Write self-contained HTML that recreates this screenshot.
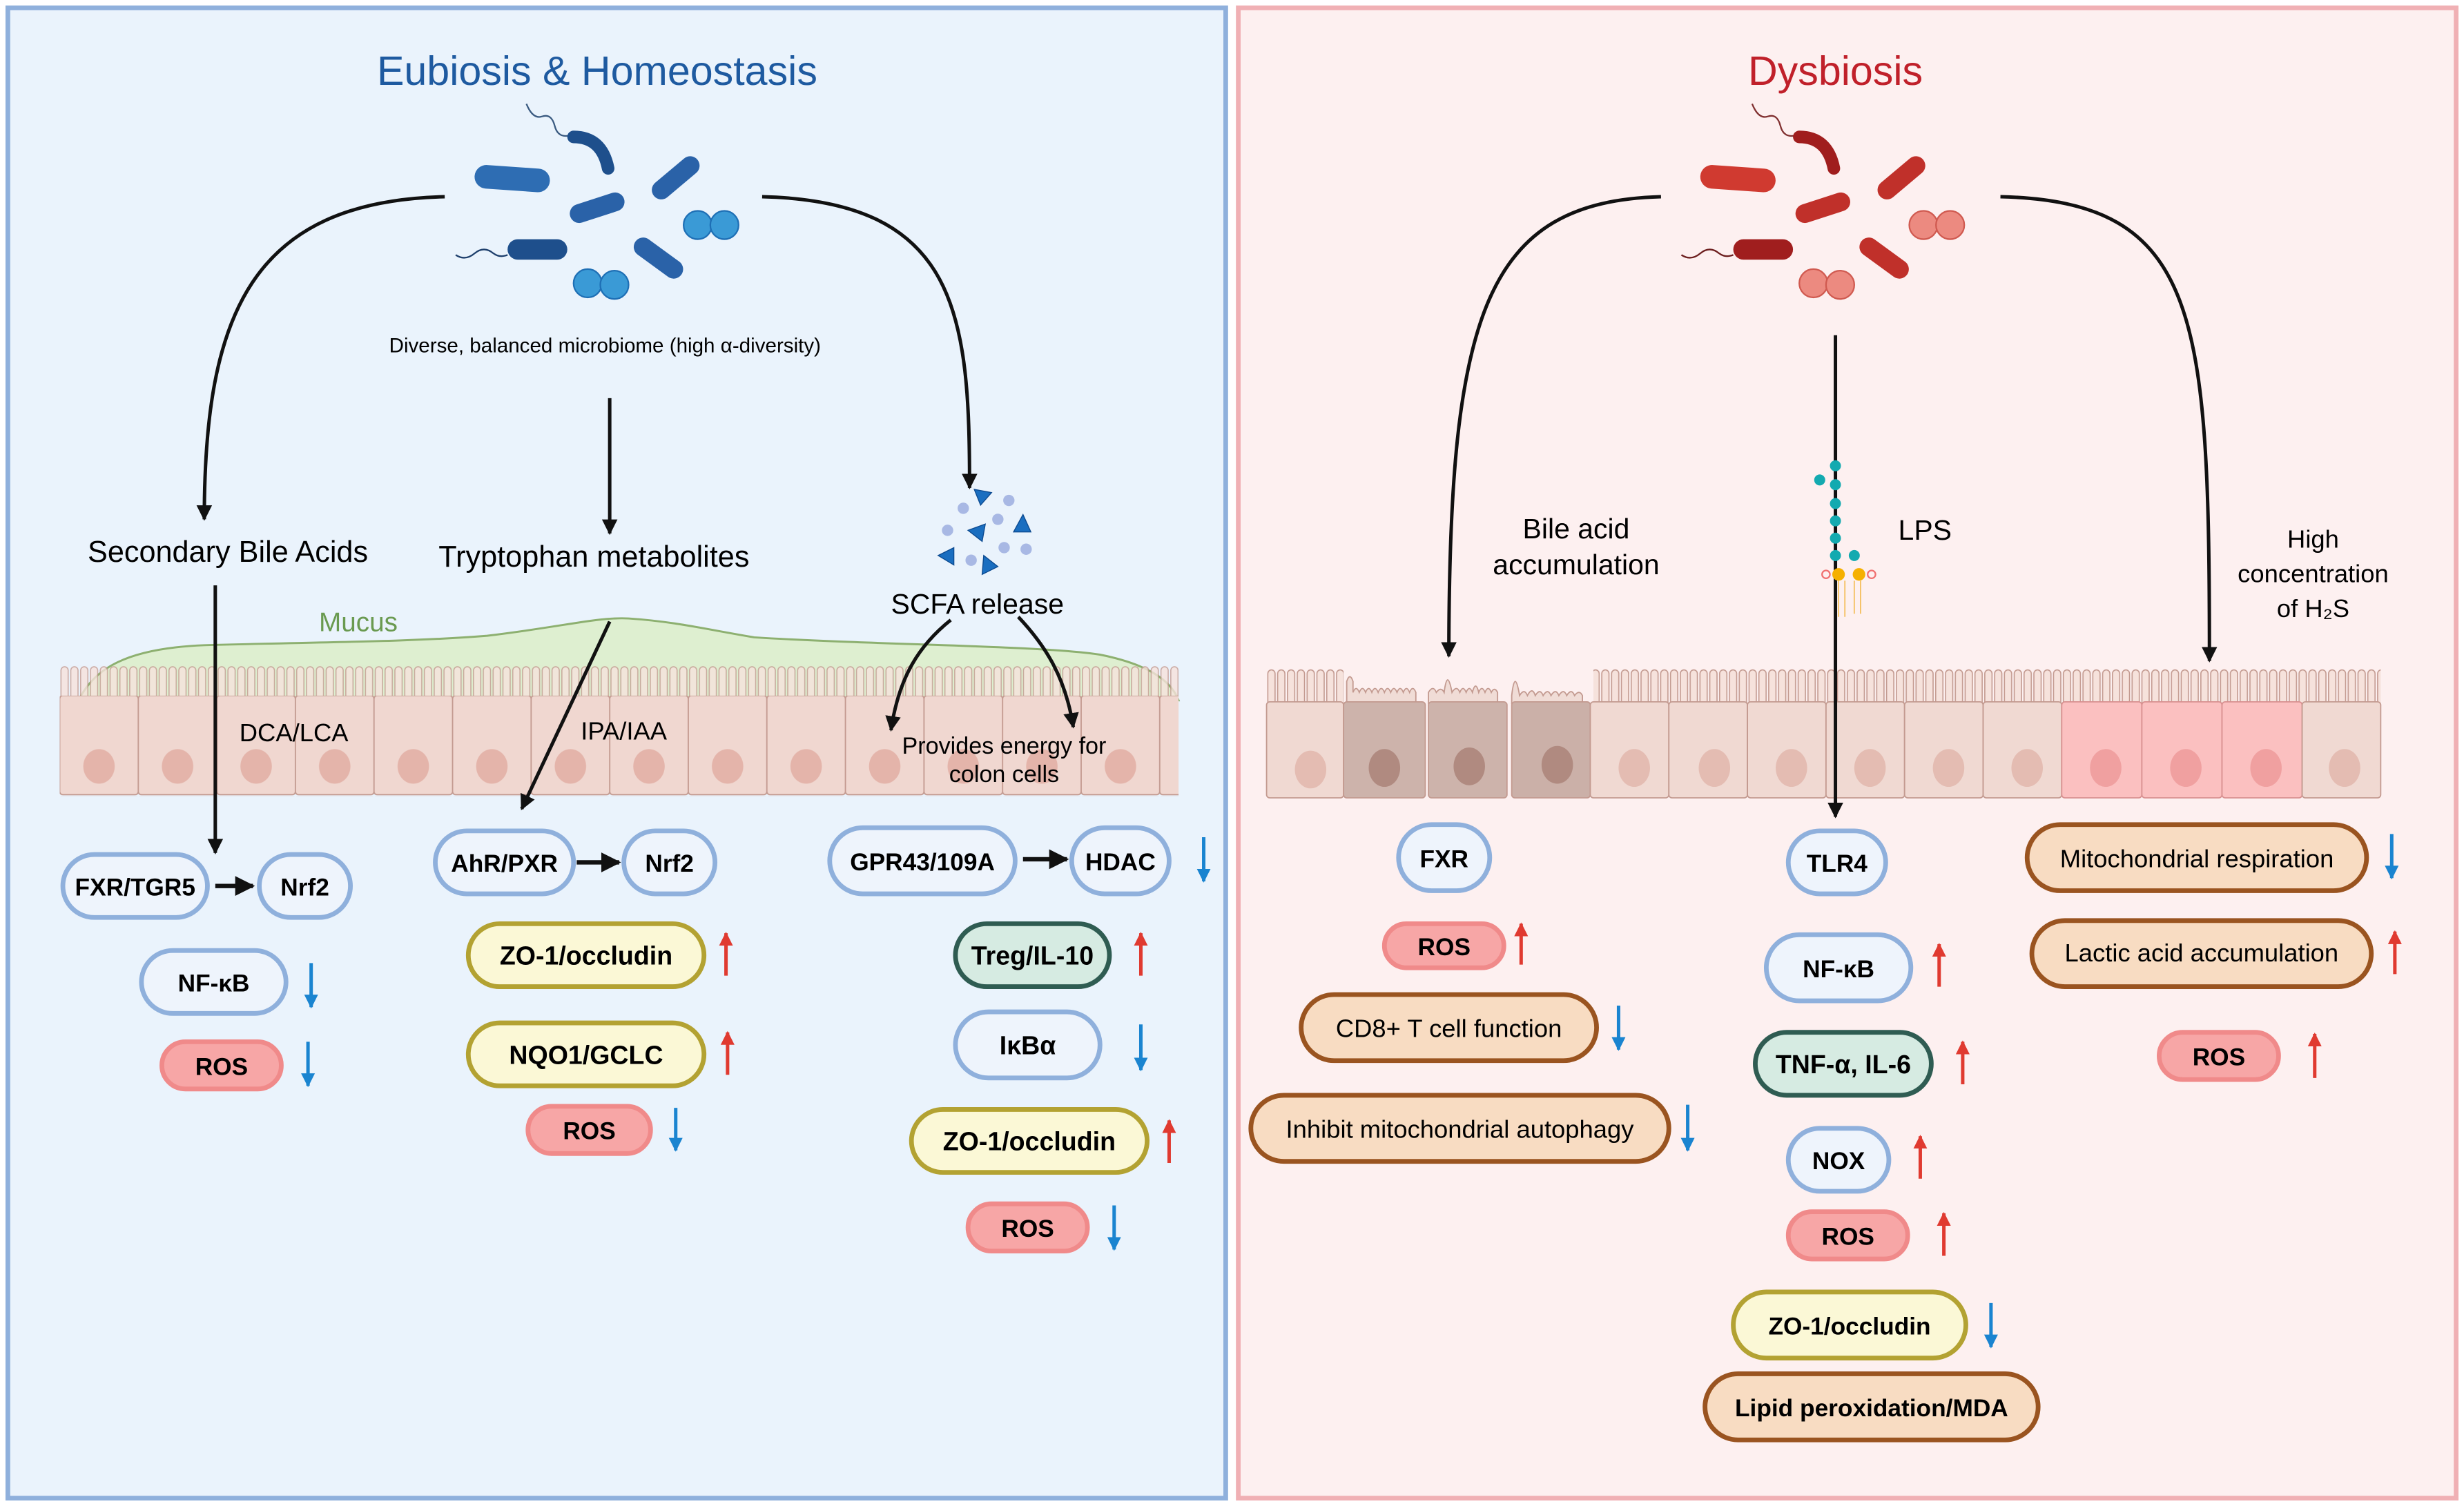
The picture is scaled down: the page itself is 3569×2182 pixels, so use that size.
<!DOCTYPE html>
<html><head><meta charset="utf-8"><style>
html,body{margin:0;padding:0;background:#fff}
svg{display:block}
text{font-family:"Liberation Sans",sans-serif}
.pb{font-weight:bold;font-size:15.5px}
.pn{font-size:16px}
</style></head><body>
<svg width="3569" height="2182" viewBox="0 0 1568 957" preserveAspectRatio="none" xmlns="http://www.w3.org/2000/svg">
<defs>
<marker id="ah" viewBox="0 0 10 10" refX="9" refY="5" markerWidth="4.5" markerHeight="8" orient="auto" markerUnits="strokeWidth"><path d="M0,0 L10,5 L0,10 Z" fill="#111"/></marker>
<marker id="ab" viewBox="0 0 10 10" refX="9" refY="5" markerWidth="4" markerHeight="4.5" orient="auto" markerUnits="strokeWidth"><path d="M0,0 L10,5 L0,10 Z" fill="#1a84d0"/></marker>
<marker id="ar" viewBox="0 0 10 10" refX="9" refY="5" markerWidth="4" markerHeight="4.5" orient="auto" markerUnits="strokeWidth"><path d="M0,0 L10,5 L0,10 Z" fill="#e03a30"/></marker>
<pattern id="vil" x="38" y="423" width="6.25" height="22" patternUnits="userSpaceOnUse">
<path d="M0.8,22 V3 a2.3,2.3 0 0 1 4.6,0 V22" fill="#f6e2dc" stroke="#c39a90" stroke-width="0.7"/></pattern>
<pattern id="vilR" x="806" y="425" width="6.25" height="22" patternUnits="userSpaceOnUse">
<path d="M0.8,22 V3 a2.3,2.3 0 0 1 4.6,0 V22" fill="#f6e2dc" stroke="#c39a90" stroke-width="0.7"/></pattern>
<pattern id="cellL" x="38" y="442" width="50" height="64" patternUnits="userSpaceOnUse">
<rect x="0" y="0" width="50" height="63" rx="2" fill="#f0d7d0" stroke="#c39a90" stroke-width="0.8"/>
<ellipse cx="25" cy="45" rx="10" ry="11" fill="#e4b4aa"/></pattern>
</defs>

<rect x="5" y="5" width="775" height="947" fill="#eaf3fc" stroke="#8fb0dc" stroke-width="3"/>
<rect x="788" y="5" width="775" height="947" fill="#fdf0f0" stroke="#f0b0b4" stroke-width="3"/>

<text x="380" y="54" text-anchor="middle" font-size="26" fill="#1e5aa0">Eubiosis &amp; Homeostasis</text>
<text x="1168" y="54" text-anchor="middle" font-size="26" fill="#c0202a">Dysbiosis</text>

<g fill="#2a62a8">
<path d="M335,66 q4,10 10,8 q6,-2 8,6 q2,8 10,6" fill="none" stroke="#3a5a80" stroke-width="1"/>
<path d="M365,87 q18,0 22,20" fill="none" stroke="#1e4f8c" stroke-width="8" stroke-linecap="round"/>
<rect x="302" y="106" width="48" height="15" rx="7.5" transform="rotate(4 326 113)" fill="#2e6db3"/>
<rect x="362" y="126" width="36" height="12" rx="6" transform="rotate(-18 380 132)"/>
<rect x="412" y="107" width="36" height="12" rx="6" transform="rotate(-40 430 113)"/>
<rect x="401" y="158" width="36" height="12" rx="6" transform="rotate(36 419 164)"/>
<path d="M290,162 q6,4 12,-1 q6,-5 12,0 q4,3 9,1" fill="none" stroke="#1e3f6c" stroke-width="1"/>
<rect x="323" y="152" width="38" height="13" rx="6.5" fill="#1e4f8c"/>
<circle cx="444" cy="143" r="9" fill="#3a9ad6" stroke="#1e6fb5"/><circle cx="461" cy="143" r="9" fill="#3a9ad6" stroke="#1e6fb5"/>
<circle cx="374" cy="180" r="9" fill="#3a9ad6" stroke="#1e6fb5"/><circle cx="391" cy="181" r="9" fill="#3a9ad6" stroke="#1e6fb5"/>
</g>
<g fill="#c0302a" transform="translate(780,0)">
<path d="M335,66 q4,10 10,8 q6,-2 8,6 q2,8 10,6" fill="none" stroke="#803030" stroke-width="1"/>
<path d="M365,87 q18,0 22,20" fill="none" stroke="#a01e1e" stroke-width="8" stroke-linecap="round"/>
<rect x="302" y="106" width="48" height="15" rx="7.5" transform="rotate(4 326 113)" fill="#d03a30"/>
<rect x="362" y="126" width="36" height="12" rx="6" transform="rotate(-18 380 132)"/>
<rect x="412" y="107" width="36" height="12" rx="6" transform="rotate(-40 430 113)"/>
<rect x="401" y="158" width="36" height="12" rx="6" transform="rotate(36 419 164)"/>
<path d="M290,162 q6,4 12,-1 q6,-5 12,0 q4,3 9,1" fill="none" stroke="#6c1e1e" stroke-width="1"/>
<rect x="323" y="152" width="38" height="13" rx="6.5" fill="#a01e1e"/>
<circle cx="444" cy="143" r="9" fill="#ec8a80" stroke="#d05a50"/><circle cx="461" cy="143" r="9" fill="#ec8a80" stroke="#d05a50"/>
<circle cx="374" cy="180" r="9" fill="#ec8a80" stroke="#d05a50"/><circle cx="391" cy="181" r="9" fill="#ec8a80" stroke="#d05a50"/>
</g>

<text x="385" y="224" text-anchor="middle" font-size="13">Diverse, balanced microbiome (high α-diversity)</text>

<g fill="none" stroke="#111" stroke-width="2.2">
<path d="M283,125 C160,128 130,200 130,330" marker-end="url(#ah)"/>
<path d="M485,125 C610,128 617,200 617,310" marker-end="url(#ah)"/>
<path d="M388,253 V339" marker-end="url(#ah)"/>
</g>

<g fill="#1a6ec0" stroke="#0c4a90" stroke-width="0.6">
<path d="M620,311 l11,2 l-7,8 z"/><path d="M651,327 l5,11 h-11 z"/><path d="M627,333 l-11,4 l9,7 z"/>
<path d="M607,348 l-10,5 l10,6 z"/><path d="M626,353 l-1,12 l10,-5 z"/>
</g>
<g fill="#a8b8e4"><circle cx="642" cy="318" r="3.6"/><circle cx="613" cy="323" r="3.6"/><circle cx="635" cy="330" r="3.6"/><circle cx="603" cy="337" r="3.6"/><circle cx="639" cy="348" r="3.6"/><circle cx="653" cy="349" r="3.6"/><circle cx="618" cy="356" r="3.6"/></g>

<text x="145" y="357" text-anchor="middle" font-size="19">Secondary Bile Acids</text>
<text x="378" y="360" text-anchor="middle" font-size="19">Tryptophan metabolites</text>
<text x="622" y="390" text-anchor="middle" font-size="18">SCFA release</text>

<path d="M50,445 C60,425 80,412 130,410 C200,408 260,408 310,404 C360,398 380,392 400,393 C430,395 450,400 480,405 C560,410 660,410 700,416 C730,422 745,432 750,445 Z" fill="#deefd0" stroke="#8db070" stroke-width="1.3"/>
<text x="228" y="401" text-anchor="middle" font-size="17" fill="#6a9a50">Mucus</text>
<rect x="38" y="423" width="712" height="20" fill="url(#vil)" opacity="0.8"/>
<rect x="38" y="442" width="712" height="64" fill="url(#cellL)"/>
<text x="187" y="471" text-anchor="middle" font-size="16">DCA/LCA</text>
<text x="397" y="470" text-anchor="middle" font-size="16">IPA/IAA</text>
<text x="639" y="479" text-anchor="middle" font-size="15">Provides energy for</text>
<text x="639" y="497" text-anchor="middle" font-size="15">colon cells</text>

<g fill="none" stroke="#111" stroke-width="2.2">
<path d="M137,372 V542" marker-end="url(#ah)"/>
<path d="M388,395 L332,514" marker-end="url(#ah)"/>
<path d="M605,394 C585,410 572,430 567,464" marker-end="url(#ah)"/>
<path d="M648,392 C665,410 678,430 683,462" marker-end="url(#ah)"/>
</g>

<g stroke="#c39a90" stroke-width="0.8">
<rect x="806" y="425" width="709" height="22" fill="url(#vilR)" stroke="none"/>
<rect x="855" y="424" width="159" height="23" fill="#fdf0f0" stroke="none"/>
<path d="M857,447 V433 q2,-6 4,0 V440 q2,-5 4,0 q2,-5 4,0 q2,-5 4,0 q2,-5 4,0 q2,-5 4,0 q2,-5 4,0 q2,-5 4,0 q2,-5 4,0 q2,-5 4,0 q2,-5 4,0 V447 Z" fill="#f0dcd6"/>
<path d="M909,447 V440 q3,-5 5,0 q3,-4 5,0 q2,-16 5,0 q3,-5 5,0 q2,-5 4,0 q2,-5 4,0 q2,-8 4,0 q2,-5 4,0 q2,-5 4,0 q2,-4 4,0 V447 Z" fill="#f0dcd6"/>
<path d="M962,447 V442 q2,-18 5,0 q3,-5 5,0 q3,-6 5,0 q3,-5 5,0 q3,-5 5,0 q3,-5 5,0 q3,-5 5,0 q3,-5 5,0 q3,-4 5,0 V447 Z" fill="#f0dcd6"/>
<rect x="806" y="446" width="49" height="61" rx="2" fill="#f0d9d2"/>
<rect x="855" y="446" width="52" height="61" rx="2" fill="#cdb3ab"/>
<rect x="909" y="446" width="50" height="61" rx="2" fill="#cdb3ab"/>
<rect x="962" y="446" width="50" height="61" rx="2" fill="#cbb0a8"/>
<rect x="1012" y="446" width="50" height="61" rx="2" fill="#f0d9d2"/>
<rect x="1062" y="446" width="50" height="61" rx="2" fill="#f0d9d2"/>
<rect x="1112" y="446" width="50" height="61" rx="2" fill="#f0d9d2"/>
<rect x="1162" y="446" width="50" height="61" rx="2" fill="#f0d9d2"/>
<rect x="1212" y="446" width="50" height="61" rx="2" fill="#f0d9d2"/>
<rect x="1262" y="446" width="50" height="61" rx="2" fill="#f0d9d2"/>
<rect x="1312" y="446" width="51" height="61" rx="2" fill="#fbc0c0" stroke="#d89090"/>
<rect x="1363" y="446" width="51" height="61" rx="2" fill="#fbc0c0" stroke="#d89090"/>
<rect x="1414" y="446" width="51" height="61" rx="2" fill="#fbc0c0" stroke="#d89090"/>
<rect x="1465" y="446" width="50" height="61" rx="2" fill="#f0d9d2"/>
</g>
<g>
<ellipse cx="834" cy="489" rx="10" ry="12" fill="#e4bcb2"/>
<ellipse cx="881" cy="488" rx="10" ry="12" fill="#b08a80"/>
<ellipse cx="935" cy="487" rx="10" ry="12" fill="#b08a80"/>
<ellipse cx="991" cy="486" rx="10" ry="12" fill="#b08a80"/>
<ellipse cx="1040" cy="488" rx="10" ry="12" fill="#e4bcb2"/>
<ellipse cx="1091" cy="488" rx="10" ry="12" fill="#e4bcb2"/>
<ellipse cx="1140" cy="488" rx="10" ry="12" fill="#e4bcb2"/>
<ellipse cx="1190" cy="488" rx="10" ry="12" fill="#e4bcb2"/>
<ellipse cx="1240" cy="488" rx="10" ry="12" fill="#e4bcb2"/>
<ellipse cx="1290" cy="488" rx="10" ry="12" fill="#e4bcb2"/>
<ellipse cx="1340" cy="488" rx="10" ry="12" fill="#f0a0a0"/>
<ellipse cx="1391" cy="488" rx="10" ry="12" fill="#f0a0a0"/>
<ellipse cx="1442" cy="488" rx="10" ry="12" fill="#f0a0a0"/>
<ellipse cx="1492" cy="488" rx="10" ry="12" fill="#e4bcb2"/>
</g>

<g fill="none" stroke="#111" stroke-width="2.2">
<path d="M1057,125 C945,128 922,200 922,417" marker-end="url(#ah)"/>
<path d="M1273,125 C1400,128 1406,200 1406,420" marker-end="url(#ah)"/>
<path d="M1168,213 V519" marker-end="url(#ah)"/>
</g>
<g fill="#13aab0">
<circle cx="1168" cy="296" r="3.5"/><circle cx="1168" cy="308" r="3.5"/><circle cx="1158" cy="305" r="3.5"/><circle cx="1168" cy="320" r="3.5"/><circle cx="1168" cy="331" r="3.5"/><circle cx="1168" cy="342" r="3.5"/><circle cx="1168" cy="353" r="3.5"/><circle cx="1180" cy="353" r="3.5"/>
</g>
<circle cx="1170" cy="365" r="4" fill="#f5b000"/><circle cx="1183" cy="365" r="4" fill="#f5b000"/>
<circle cx="1162" cy="365" r="2.5" fill="none" stroke="#f07070"/><circle cx="1191" cy="365" r="2.5" fill="none" stroke="#f07070"/>
<path d="M1170,369 V392 M1174,369 V392 M1180,369 V390 M1184,369 V390" stroke="#f5c060" stroke-width="0.8"/>
<text x="1225" y="343" text-anchor="middle" font-size="18">LPS</text>
<text x="1003" y="342" text-anchor="middle" font-size="18">Bile acid</text>
<text x="1003" y="365" text-anchor="middle" font-size="18">accumulation</text>
<text x="1472" y="348" text-anchor="middle" font-size="16">High</text>
<text x="1472" y="370" text-anchor="middle" font-size="16">concentration</text>
<text x="1472" y="392" text-anchor="middle" font-size="16">of H₂S</text>

<g stroke-width="3">
<g fill="#eef4fc" stroke="#8fb0dc">
<rect x="40" y="543" width="92" height="40" rx="20"/><rect x="165" y="543" width="58" height="40" rx="20"/>
<rect x="90" y="604" width="92" height="40" rx="20"/>
<rect x="277" y="528" width="88" height="40" rx="20"/><rect x="397" y="528" width="58" height="40" rx="20"/>
<rect x="528" y="526" width="118" height="42" rx="21"/><rect x="682" y="526" width="62" height="42" rx="21"/>
<rect x="608" y="643" width="92" height="42" rx="21"/>
<rect x="890" y="524" width="58" height="42" rx="21"/>
<rect x="1138" y="528" width="62" height="40" rx="20"/>
<rect x="1124" y="594" width="92" height="42" rx="21"/>
<rect x="1138" y="717" width="64" height="40" rx="20"/>
</g>
<g fill="#f7a6a6" stroke="#f08a8a">
<rect x="103" y="662" width="76" height="30" rx="15"/>
<rect x="336" y="703" width="78" height="30" rx="15"/>
<rect x="616" y="765" width="76" height="30" rx="15"/>
<rect x="881" y="587" width="76" height="28" rx="14"/>
<rect x="1138" y="770" width="76" height="30" rx="15"/>
<rect x="1374" y="656" width="76" height="30" rx="15"/>
</g>
<g fill="#fbf8d6" stroke="#b3a232">
<rect x="298" y="587" width="150" height="40" rx="20"/>
<rect x="298" y="650" width="150" height="40" rx="20"/>
<rect x="580" y="705" width="150" height="40" rx="20"/>
<rect x="1103" y="821" width="148" height="42" rx="21"/>
</g>
<g fill="#d6ebe2" stroke="#2f5c52">
<rect x="608" y="587" width="98" height="40" rx="20"/>
<rect x="1117" y="656" width="112" height="40" rx="20"/>
</g>
<g fill="#f8dcc2" stroke="#9a5420">
<rect x="828" y="632" width="188" height="42" rx="21"/>
<rect x="796" y="696" width="266" height="42" rx="21"/>
<rect x="1085" y="873" width="212" height="42" rx="21"/>
<rect x="1290" y="524" width="216" height="42" rx="21"/>
<rect x="1293" y="585" width="216" height="42" rx="21"/>
</g>
</g>

<g class="pb" text-anchor="middle">
<text x="86" y="569">FXR/TGR5</text><text x="194" y="569">Nrf2</text>
<text x="136" y="630">NF-κB</text><text x="141" y="683">ROS</text>
<text x="321" y="554">AhR/PXR</text><text x="426" y="554">Nrf2</text>
<text x="373" y="613" font-size="16.5">ZO-1/occludin</text>
<text x="373" y="676" font-size="16.5">NQO1/GCLC</text>
<text x="375" y="724">ROS</text>
<text x="587" y="553">GPR43/109A</text><text x="713" y="553">HDAC</text>
<text x="657" y="613" font-size="16.5">Treg/IL-10</text>
<text x="654" y="670" font-size="16.5">IκBα</text>
<text x="655" y="731" font-size="16.5">ZO-1/occludin</text>
<text x="654" y="786">ROS</text>
<text x="919" y="551">FXR</text><text x="919" y="607">ROS</text>
<text x="1169" y="554">TLR4</text>
<text x="1170" y="621">NF-κB</text>
<text x="1173" y="682" font-size="16.5">TNF-α, IL-6</text>
<text x="1170" y="743">NOX</text>
<text x="1176" y="791">ROS</text>
<text x="1177" y="848">ZO-1/occludin</text>
<text x="1191" y="900">Lipid peroxidation/MDA</text>
<text x="1412" y="677">ROS</text>
</g>
<g class="pn" text-anchor="middle">
<text x="922" y="659">CD8+ T cell function</text>
<text x="929" y="723">Inhibit mitochondrial autophagy</text>
<text x="1398" y="551">Mitochondrial respiration</text>
<text x="1401" y="611">Lactic acid accumulation</text>
</g>

<g stroke="#111" fill="none" stroke-width="2.8">
<path d="M137,563 H161" marker-end="url(#ah)"/>
<path d="M367,548 H394" marker-end="url(#ah)"/>
<path d="M651,546 H679" marker-end="url(#ah)"/>
</g>

<g stroke-width="2.2" fill="none">
<g stroke="#1a84d0">
<path d="M198,612 V640" marker-end="url(#ab)"/>
<path d="M196,662 V690" marker-end="url(#ab)"/>
<path d="M430,704 V731" marker-end="url(#ab)"/>
<path d="M766,532 V560" marker-end="url(#ab)"/>
<path d="M726,651 V680" marker-end="url(#ab)"/>
<path d="M709,766 V794" marker-end="url(#ab)"/>
<path d="M1030,639 V667" marker-end="url(#ab)"/>
<path d="M1074,702 V731" marker-end="url(#ab)"/>
<path d="M1267,828 V856" marker-end="url(#ab)"/>
<path d="M1522,530 V558" marker-end="url(#ab)"/>
</g>
<g stroke="#e03a30">
<path d="M462,620 V593" marker-end="url(#ar)"/>
<path d="M463,683 V656" marker-end="url(#ar)"/>
<path d="M726,620 V593" marker-end="url(#ar)"/>
<path d="M744,739 V712" marker-end="url(#ar)"/>
<path d="M968,613 V587" marker-end="url(#ar)"/>
<path d="M1234,627 V600" marker-end="url(#ar)"/>
<path d="M1249,689 V662" marker-end="url(#ar)"/>
<path d="M1222,749 V722" marker-end="url(#ar)"/>
<path d="M1237,798 V771" marker-end="url(#ar)"/>
<path d="M1524,619 V592" marker-end="url(#ar)"/>
<path d="M1473,685 V657" marker-end="url(#ar)"/>
</g>
</g>
</svg>
</body></html>
